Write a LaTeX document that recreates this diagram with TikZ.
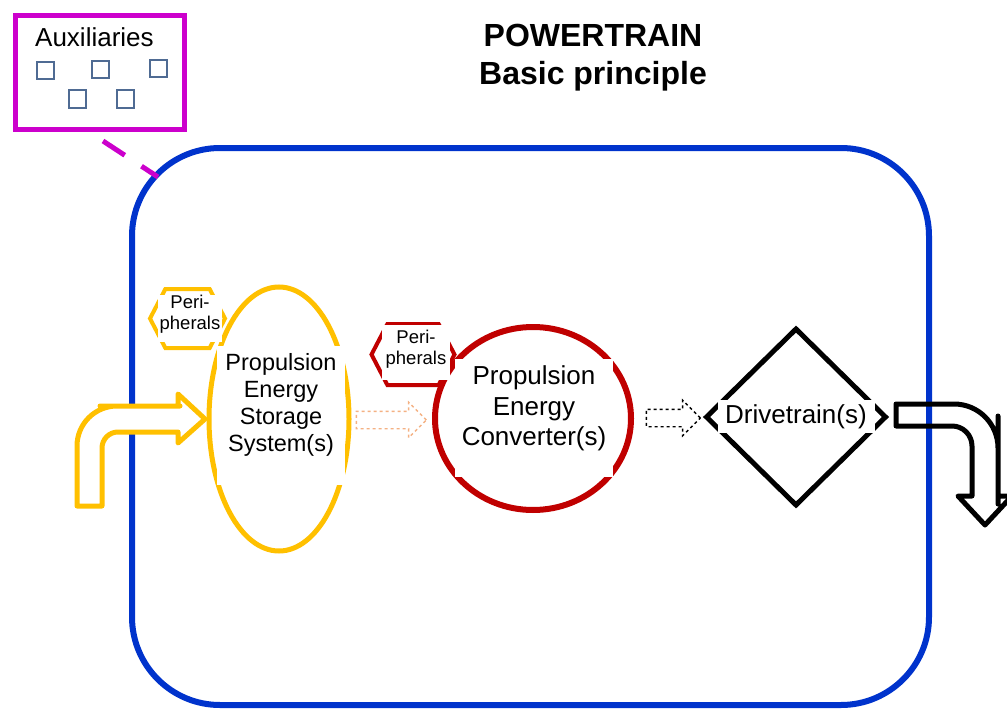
\documentclass[tikz,border=0pt]{standalone}
\usepackage{fontspec}
\setmainfont{Liberation Sans}
\usetikzlibrary{shapes.geometric,shapes.arrows,shapes.symbols,calc}
\definecolor{ptblue}{HTML}{0033CC}
\definecolor{auxmagenta}{HTML}{CC00CC}
\definecolor{auxslate}{HTML}{4F6B93}
\definecolor{storeyellow}{HTML}{FFC000}
\definecolor{convred}{HTML}{C00000}
\definecolor{flowpeach}{HTML}{F4B183}
\begin{document}
\begin{tikzpicture}[x=1pt, y=-1pt,
	powerbox/.style={draw=ptblue, line width=6pt, rounded corners=88pt, minimum width=797pt, minimum height=557pt},
	auxframe/.style={draw=auxmagenta, line width=5pt, minimum width=169pt, minimum height=114pt},
	auxlink/.style={auxmagenta, line width=5pt, dash pattern=on 26pt off 20pt},
	auxitem/.style={draw=auxslate, line width=2pt},
	periph/.style={signal, signal to=west and east, signal pointer angle=125, line width=4pt, inner sep=0pt},
	labelbox/.style={fill=white, align=center, inner sep=0pt},
	flowarrow/.style={single arrow, dashed, line width=1.4pt, inner xsep=0pt, inner ysep=8pt, single arrow head extend=9pt},
	bentarrow/.style={line width=5pt, line join=round}]
	\useasboundingbox (0,0) rectangle (1007,709);

	\node[align=center, font=\bfseries\fontsize{32}{38}\selectfont] (title) at (593,57.5) {POWERTRAIN\\Basic principle};

	\node[powerbox] (powertrain) at (530.5,426.5) {};

	\node[auxframe] (auxbox) at (100,72.5) {};
	\node[anchor=base west, inner sep=0pt, font=\fontsize{26}{30}\selectfont] (auxtitle) at (35,47) {Auxiliaries};
	\draw[auxitem] (36.5,62.5) rectangle ++(17,17);
	\draw[auxitem] (91.5,61.5) rectangle ++(17,17);
	\draw[auxitem] (149.5,60.5) rectangle ++(17,17);
	\draw[auxitem] (68.5,90.5) rectangle ++(17,17);
	\draw[auxitem] (116.5,90.5) rectangle ++(17,17);
	\coordinate (auxend) at (158,177);
	\draw[auxlink] ($(auxbox.south)+(3,9)$) -- (auxend);

	\draw[bentarrow, draw=storeyellow, fill=white] (77,506) -- (77,460) [rounded corners=40pt] -- (77,406) -- (140,406) [sharp corners] -- (178,406) -- (178,394) -- (205,419) -- (178,443) -- (178,432) -- (150,432) [rounded corners=16pt] -- (102,432) -- (102,480) [sharp corners] -- (102,506) -- cycle;

	\node[draw=storeyellow, line width=5pt, ellipse, inner sep=0pt, minimum width=140pt, minimum height=264pt] (storage) at (279,419) {};
	\node[labelbox, minimum width=128pt, minimum height=139pt, font=\fontsize{23.5}{27.3}\selectfont] (storagetext) at (281,415) {Propulsion\\Energy\\Storage\\System(s)\rule[-25pt]{0pt}{25pt}};
	\node[periph, draw=storeyellow, minimum width=75pt, minimum height=59pt] (storageperiph) at (187.5,318.5) {};
	\node[labelbox, minimum width=64pt, minimum height=47pt, font=\fontsize{18.5}{21}\selectfont] (storageperiphtext) at (190,318.5) {Peri-\\pherals\rule[-11.5pt]{0pt}{11.5pt}};

	\node[draw=convred, line width=6pt, ellipse, inner sep=0pt, minimum width=196pt, minimum height=183pt] (converter) at (533,418.5) {};
	\node[labelbox, minimum width=158pt, minimum height=118pt, font=\fontsize{26}{30.5}\selectfont] (convertertext) at (534,418) {Propulsion\\Energy\\Converter(s)\rule[-24pt]{0pt}{24pt}};
	\node[periph, draw=convred, minimum width=83pt, minimum height=61pt] (converterperiph) at (413,354.5) {};
	\node[labelbox, minimum width=68pt, minimum height=55pt, font=\fontsize{18.5}{21.5}\selectfont] (converterperiphtext) at (416,352.5) {Peri-\\pherals\rule[-10.5pt]{0pt}{10.5pt}};

	\node[flowarrow, draw=flowpeach, minimum height=70pt] (storageflow) at (387,420) {};
	\node[flowarrow, draw=black, minimum height=54pt] (converterflow) at (669,418) {};

	\node[draw=black, line width=5pt, diamond, inner sep=0pt, minimum width=181pt, minimum height=178pt] (drivetrain) at (796,417) {};
	\node[labelbox, minimum width=157pt, minimum height=33pt, font=\fontsize{26}{30}\selectfont] (drivetext) at (796,416.5) {Drivetrain(s)};

	\draw[bentarrow] (896,404) -- (950,404) [rounded corners=44pt] -- (998,404) -- (998,460) [sharp corners] -- (998,496) -- (1012,496) -- (985,525) -- (958,496) -- (972,496) -- (972,470) [rounded corners=20pt] -- (972,426) -- (930,426) [sharp corners] -- (896,426) -- cycle;
\end{tikzpicture}
\end{document}
